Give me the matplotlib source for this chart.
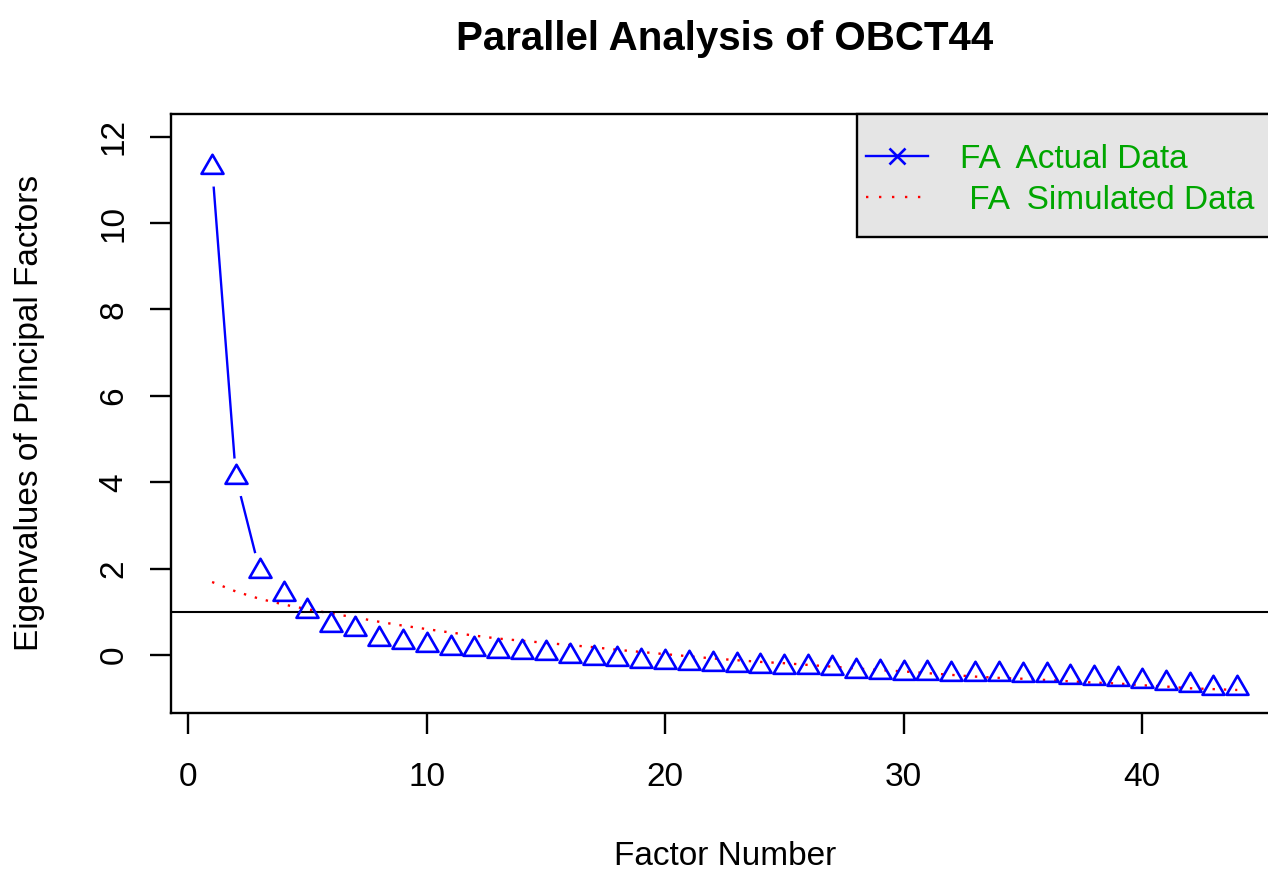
import matplotlib
matplotlib.use('Agg')
import matplotlib.pyplot as plt
from matplotlib.path import Path
from matplotlib.lines import Line2D
from matplotlib.patches import Rectangle

# ---- data ----
factor_number = list(range(1, 45))
actual_data = [11.31, 4.12, 1.94, 1.41, 1.02, 0.70, 0.60, 0.38, 0.31, 0.24,
               0.17, 0.14, 0.09, 0.06, 0.04, -0.03, -0.08, -0.09, -0.13, -0.17,
               -0.19, -0.21, -0.23, -0.25, -0.27, -0.27, -0.31, -0.37, -0.39, -0.41,
               -0.42, -0.45, -0.45, -0.45, -0.46, -0.47, -0.50, -0.54, -0.56, -0.60,
               -0.64, -0.70, -0.76, -0.77]
simulated_data = [1.69, 1.47, 1.30, 1.17, 1.06, 0.96, 0.87, 0.77, 0.68, 0.60,
                  0.52, 0.45, 0.38, 0.33, 0.28, 0.23, 0.18, 0.12, 0.07, 0.02,
                  -0.03, -0.08, -0.12, -0.16, -0.19, -0.23, -0.27, -0.31, -0.35, -0.38,
                  -0.42, -0.46, -0.50, -0.53, -0.55, -0.58, -0.61, -0.64, -0.66, -0.70,
                  -0.73, -0.77, -0.79, -0.81]
reference_line = 1
x_ticks = [0, 10, 20, 30, 40]
y_ticks = [0, 2, 4, 6, 8, 10, 12]
title_text = "Parallel Analysis of OBCT44"
x_label = "Factor Number"
y_label = "Eigenvalues of Principal Factors"
legend_labels = ["FA  Actual Data", " FA  Simulated Data"]

# ---- style ----
W, H = 1268, 873
BLUE = '#0000FF'
RED = '#FF0000'
GREEN = '#00A600'
LW = 1.7
plt.rcParams['font.family'] = ['Liberation Sans', 'DejaVu Sans']

fig = plt.figure(figsize=(W / 100, H / 100), dpi=100)


def fx(px):
    return px / W


def fy(py):
    return 1 - py / H


ax_l, ax_r, ax_t, ax_b = 171.1, 1278.3, 114.0, 712.7
ax = fig.add_axes([fx(ax_l), fy(ax_b), (ax_r - ax_l) / W, (ax_b - ax_t) / H])
ax.set_xlim(-0.72, 45.72)
ax.set_ylim(-1.336, 12.526)

tri = Path([(0, 0.5774), (0.5, -0.2887), (-0.5, -0.2887), (0, 0.5774)],
           [Path.MOVETO, Path.LINETO, Path.LINETO, Path.CLOSEPOLY])

# connecting line (type "b": gaps around the points)
ax.plot(factor_number, actual_data, color=BLUE, lw=LW, zorder=2,
        solid_capstyle='butt')
ax.plot(factor_number, actual_data, ls='none', marker='o', ms=27.5,
        mfc='white', mec='none', zorder=2.5)
ax.plot(factor_number, simulated_data, color=RED, lw=LW, dashes=(1, 3.8),
        zorder=3)
ax.axhline(reference_line, color='black', lw=LW - 0.2, zorder=3)
ax.plot(factor_number, actual_data, ls='none', marker=tri, ms=18.3,
        mfc='none', mec=BLUE, mew=1.9, zorder=4)

for s in ax.spines.values():
    s.set_linewidth(LW)
    s.set_color('black')

ax.set_xticks(x_ticks)
ax.set_yticks(y_ticks)
ax.tick_params(axis='both', direction='out', length=14.8, width=LW,
               labelsize=24, colors='black')
ax.tick_params(axis='x', pad=21)
ax.tick_params(axis='y', pad=15, labelrotation=90)
plt.setp(ax.get_yticklabels(), va='center')

ax.set_title(title_text, fontsize=29, fontweight='bold', y=(ax_b - 50) / (ax_b - ax_t),
             pad=0, va='baseline')
ax.set_xlabel(x_label, fontsize=24, va='baseline')
ax.xaxis.set_label_coords(fx(725), fy(865), transform=fig.transFigure)
ax.set_ylabel(y_label, fontsize=24, va='center')
ax.yaxis.set_label_coords(fx(30), fy(413.4), transform=fig.transFigure)

# ---- legend (R style box, top right) ----
rect = Rectangle((fx(857), fy(237)), (1278 - 857) / W, (237 - 114) / H,
                 transform=fig.transFigure, fc='#E5E5E5', ec='black', lw=LW,
                 zorder=5)
fig.add_artist(rect)
fig.add_artist(Line2D([fx(866), fx(928)], [fy(156), fy(156)],
                      transform=fig.transFigure, color=BLUE, lw=LW, zorder=6))
fig.add_artist(Line2D([fx(897)], [fy(156)], transform=fig.transFigure,
                      ls='none', marker='x', ms=11, mew=1.9, color=BLUE, zorder=6))
fig.add_artist(Line2D([fx(866), fx(928)], [fy(197), fy(197)],
                      transform=fig.transFigure, color=RED, lw=LW,
                      dashes=(1, 4.5), zorder=6))
fig.text(fx(960), fy(168), legend_labels[0], color=GREEN, fontsize=24,
         va='baseline', ha='left', zorder=7)
fig.text(fx(960), fy(209), legend_labels[1], color=GREEN, fontsize=24,
         va='baseline', ha='left', zorder=7)

fig.savefig('out.png', dpi=100)
